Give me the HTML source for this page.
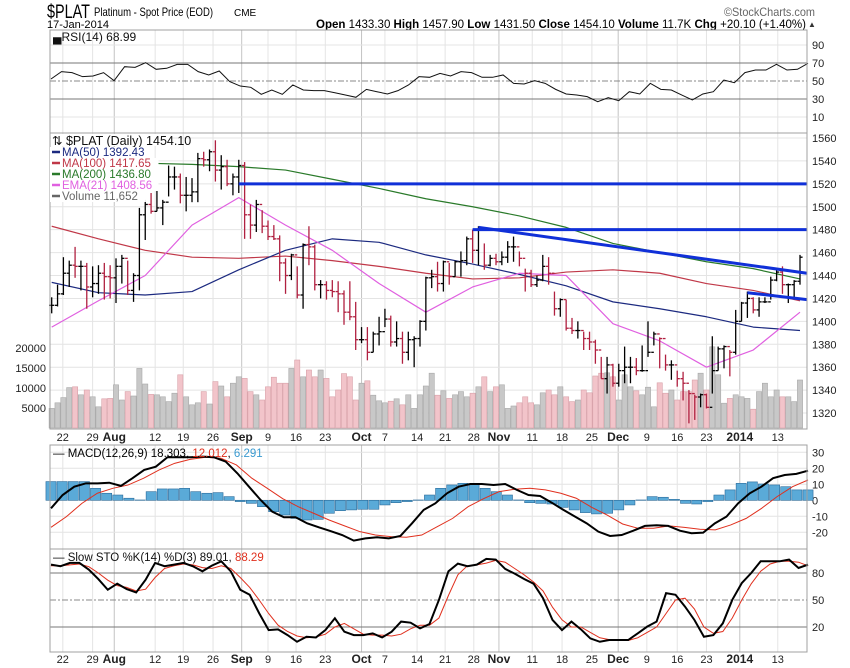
<!DOCTYPE html>
<html><head><meta charset="utf-8"><style>
html,body{margin:0;padding:0;background:#fff}
svg{display:block;font-family:"Liberation Sans",sans-serif}
</style></head><body>
<svg id="chart" width="850" height="668" viewBox="0 0 850 668" xmlns="http://www.w3.org/2000/svg">
<rect x="0" y="0" width="850" height="668" fill="#fff"/>
<text x="47" y="18" font-size="19" textLength="43" lengthAdjust="spacingAndGlyphs" fill="#000">$PLAT</text>
<text x="94" y="16" font-size="12" textLength="119" lengthAdjust="spacingAndGlyphs" fill="#000">Platinum - Spot Price (EOD)</text>
<text x="234" y="16" font-size="10" fill="#000">CME</text>
<text x="724" y="16" font-size="12" textLength="91" lengthAdjust="spacingAndGlyphs" fill="#666">©StockCharts.com</text>
<text x="47" y="28" font-size="11" textLength="62" lengthAdjust="spacingAndGlyphs" fill="#000">17-Jan-2014</text>
<text x="316" y="28" font-size="11.5" textLength="490" lengthAdjust="spacingAndGlyphs" fill="#000"><tspan font-weight="bold">Open</tspan> 1433.30 <tspan font-weight="bold">High</tspan> 1457.90 <tspan font-weight="bold">Low</tspan> 1431.50 <tspan font-weight="bold">Close</tspan> 1454.10 <tspan font-weight="bold">Volume</tspan> 11.7K <tspan font-weight="bold">Chg</tspan> +20.10 (+1.40%)</text>
<text x="808" y="27" font-size="8" fill="#333">▲</text>
<g id="g"></g>
</svg>
<script>
// ---- price data (bar by bar) ----
const highs=[1421,1432,1456,1453,1465,1453,1451,1448,1449,1451,1449,1455,1458,1453,1442,1499,1506,1512,1515,1506,1536,1535,1529,1526,1525,1547,1548,1550,1558,1545,1541,1529,1541,1539,1502,1506,1497,1488,1484,1475,1455,1459,1448,1468,1483,1467,1436,1435,1436,1435,1427,1435,1417,1395,1395,1391,1404,1411,1405,1400,1391,1391,1387,1401,1439,1445,1452,1453,1451,
1453,1461,1474,1480,1483,1468,1458,1459,1461,1470,1474,1461,1446,1445,1440,1458,1456,1426,1420,1419,1403,1400,1391,1391,1384,1369,1369,1363,1363,1378,1369,1368,1379,1400,1391,1386,1371,1366,1357,1356,1340,1336,1337,1337,1387,1378,1379,1375,1410,1417,1426,1421,1421,1421,1439,1445,1448,1433,1436,1458];
const lows=[1407,1413,1423,1430,1438,1427,1411,1421,1424,1419,1420,1416,1433,1423,1417,1427,1471,1494,1496,1484,1509,1515,1503,1496,1504,1504,1535,1531,1522,1515,1518,1510,1512,1472,1472,1478,1477,1471,1471,1435,1424,1436,1420,1411,1449,1427,1420,1419,1421,1408,1397,1401,1375,1381,1366,1373,1379,1395,1378,1378,1363,1366,1360,1378,1392,1429,1426,1426,1432,
1439,1439,1449,1451,1449,1445,1448,1449,1449,1451,1452,1448,1426,1430,1430,1435,1432,1405,1404,1392,1389,1385,1375,1375,1363,1350,1337,1343,1343,1346,1346,1353,1356,1369,1379,1359,1357,1349,1343,1331,1311,1314,1325,1324,1337,1357,1359,1352,1371,1400,1403,1407,1404,1416,1419,1435,1424,1416,1419,1432];
const closes=[1414,1424,1442,1449,1448,1448,1430,1433,1442,1439,1438,1448,1455,1427,1440,1493,1502,1496,1499,1504,1526,1526,1510,1510,1513,1542,1541,1548,1532,1535,1520,1526,1536,1493,1484,1502,1483,1474,1472,1451,1440,1458,1423,1467,1465,1432,1432,1427,1426,1424,1408,1404,1384,1384,1373,1389,1391,1402,1382,1385,1373,1384,1385,1400,1438,1439,1433,1452,1439,
1452,1453,1472,1462,1480,1449,1455,1452,1456,1465,1465,1455,1442,1432,1436,1448,1442,1411,1419,1394,1392,1392,1385,1382,1375,1350,1362,1346,1357,1360,1360,1357,1357,1373,1389,1385,1362,1362,1350,1346,1337,1334,1336,1325,1357,1376,1378,1373,1400,1416,1420,1410,1417,1417,1436,1443,1432,1432,1435,1456];
// volume in thousands
const volumes=[4.9,6.3,7.6,10.1,10.3,8.3,9.5,7.8,5.3,7.3,7.4,10.8,7.0,9.1,8.0,14.9,11.0,8.4,8.3,7.8,6.6,8.7,13.3,7.8,5.8,6.3,9.1,6.0,11.6,10.5,7.8,11.2,12.8,12.4,9.1,8.3,7.0,10.3,12.7,11.2,11.2,14.9,17.0,12.8,14.5,12.8,14.5,12.4,7.8,9.5,13.6,12.8,7.0,11.2,11.8,8.2,6.8,6.3,6.7,7.3,5.8,8.3,4.9,8.3,10.5,13.7,8.2,9.3,7.4,
8.3,9.1,7.8,8.7,10.3,12.8,9.1,10.3,10.8,4.9,5.5,6.3,7.8,6.3,5.8,8.8,9.5,8.3,10.3,7.8,6.6,7.0,9.5,8.8,13.0,13.7,13.8,12.8,7.0,13.3,10.3,9.3,8.3,10.2,5.3,11.3,8.7,9.5,7.0,9.1,9.1,12.0,13.7,9.5,20.3,13.3,6.2,7.4,8.3,7.8,7.4,4.7,9.1,11.2,7.8,9.5,7.8,7.8,6.6,12.0];
// moving averages sampled every 8 bars
const ma50=[1434,1425,1423,1426,1445,1462,1472,1469,1458,1450,1441,1431,1417,1411,1404,1395,1392];
const ma100=[1483,1472,1462,1456,1455,1457,1453,1448,1442,1437,1438,1443,1445,1442,1433,1427,1418];
const ma200=[1540,1539,1538,1537,1535,1532,1524,1516,1507,1500,1492,1482,1468,1460,1452,1446,1437];
const ema21=[1395,1418,1440,1484,1508,1484,1462,1433,1408,1430,1442,1440,1398,1383,1360,1375,1408];
// annotation lines (price levels, bar indices)
const hLevels=[1520,1480];
const hStartBars=[32,72];
const trendFrom=[73,1482]; const trendTo=[128,1442];
const trend2From=[119,1425]; const trend2To=[128,1419];
// RSI
const rsi=[52.2,60.4,59.3,54.8,55.6,59.3,50.4,65.9,65.2,70.4,63,64.1,68.5,68.5,60.4,56.7,61.1,49.3,44.4,43,35.2,40,35.2,45.6,40,39.3,39.3,37,34.4,31.9,40.7,38.1,35.6,39.3,45.6,54.8,54.1,58.5,55.6,60.4,59.3,54.1,54.1,56.7,47.4,46.7,50.4,47.4,40.7,35.6,34.4,32.6,27,31.5,28.1,38.1,35.6,47.4,40.7,40,34.4,28.9,35.6,38.1,51.1,48.1,59.3,62.2,62.2,68.5,62.2,63,69.6];
// MACD
const macdLine=[-5,3.3,8.5,10.6,10.6,11,9,13.8,19,21,26.9,26.9,26.9,27.3,26.9,24.2,16.9,8.5,0.2,-7.1,-10.6,-10.6,-14.4,-16.9,-19.2,-21.7,-25.2,-23.8,-23.1,-23.8,-22.3,-14.4,-6,-1.9,4.4,8.5,10.2,10.2,9.6,10.2,6.5,3.3,2.7,-1.5,-6,-10.2,-14.4,-19.6,-22.3,-21.7,-19,-16,-15.6,-16,-19,-20.6,-20.2,-14.4,-10.2,-1.9,4.4,8.5,13.8,15.8,16.5,18.5];
const macdSignal=[-16.9,-10.2,-1.9,4.4,7.5,9.6,13.8,19,23.1,25.6,26.9,26.3,22.1,13.8,7.5,1,-4,-8.1,-12.3,-16,-19.6,-21.7,-22.7,-23.1,-21.7,-16.5,-11.3,-4,1,5.4,6.9,7.5,6.5,4.4,1.3,-4.4,-9.2,-14.8,-17.5,-17.5,-16,-16.9,-18.1,-18.5,-15.4,-11.3,-5,2.3,8.5,12.7];
const macdHist=[11.7,11.7,11.7,11.7,7.5,4.4,3.3,1.3,0.2,5.4,7.1,7.1,7.5,5.4,4.4,4.8,2.3,-0.8,-1.9,-4,-7.1,-9.2,-11.3,-12.3,-11.9,-8.1,-6.5,-6,-5.6,-5.6,-2.9,-1.5,-0.8,0.2,3.3,7.5,9.6,10.6,10.2,7.5,5.4,3.3,0.2,-1.5,-1.9,-2.3,-4.4,-6,-7.7,-8.5,-8.1,-6,-2.9,0.2,2.3,1.9,0.6,-1.9,-2.3,-0.8,3.3,6.5,10.6,11.5,10.2,9.6,8.5,6.5,6.5];
// Slow stochastic
const stoK=[89.3,87.5,91.2,91.2,83.7,73.3,61.4,68.1,62.1,58.4,72.5,91.2,87.5,89.3,91.2,87.5,81.9,88.2,93,81.9,61.4,55.8,35.3,16.6,17.4,11,3.6,9.2,8.4,16.6,29.7,14.8,11,11,12.9,8.4,14.8,26,24.8,18.5,23.3,50.2,81.9,90.4,87.5,89.3,95.7,94.9,84.5,79.3,73.3,68.1,52,27.8,16.6,26,17.4,7.3,3.6,5.5,5.5,5.5,12.9,20.4,26,57.6,55.8,42.7,27.8,9.2,11,24.1,50.2,68.8,80,93,93,93,94.9,85.6,89.3];
const stoD=[88,88,89,90,87,80,72,66,64,60,62,75,85,88,90,89,86,85,88,85,75,64,50,35,22,15,10,8,9,12,20,24,18,12,11,11,10,12,18,22,22,30,55,78,88,89,91,94,92,85,78,70,60,42,28,20,20,14,8,6,5,5,8,14,20,35,50,52,40,20,13,15,30,50,68,82,90,93,93,92,88];
// date axis
const dateLabels=["22","29","Aug","12","19","26","Sep","9","16","23","Oct","7","14","21","28","Nov","11","18","25","Dec","9","16","23","2014","13"];
const dateBars=[1.9,7,10.7,17.7,22.5,27.6,32.5,37,41.8,46.8,53,57,62.5,67.3,72.2,76.5,82.2,87.3,92.4,96.9,101.8,107,112,117.7,124.2];
const priceTicks=[1560,1540,1520,1500,1480,1460,1440,1420,1400,1380,1360,1340,1320];
const volTicks=[20000,15000,10000,5000];
const rsiTicks=[90,70,50,30,10];
const macdTicks=[30,20,10,0,-10,-20];
const stoTicks=[80,50,20];

const NS="http://www.w3.org/2000/svg";
const G=document.getElementById('g');
function mk(tag,attrs,parent){const e=document.createElementNS(NS,tag);for(const k in attrs)e.setAttribute(k,attrs[k]);(parent||G).appendChild(e);return e;}
const L=50,R=807,N=closes.length;
const xBar=i=>51.7+i*(800-51.7)/(N-1);
const xEven=(i,n)=>51+i*(757/(n-1));
const yP=p=>138+(1560-p)*1.146;
const yV=v=>428-v*4;
const yR=v=>81-(v-50)*0.9;
const yM=v=>500.3-v*1.6;
const yS=v=>600-(v-50)*0.9;
const panels=[[30,133,'rsi-panel'],[133,429,'price-panel'],[445,549,'macd-panel'],[549,652,'stochastic-panel']];
dateLabels.forEach((t,k)=>{
  const isM=isNaN(+t)||t==="2014";
  const x=xBar(dateBars[k]);
  panels.forEach(p=>{
    const ln=mk('line',{x1:x,x2:x,y1:p[0],y2:p[1],stroke:isM?'#c4c4c4':'#e4e4e4','stroke-width':1});
    
    
  });
  [441,663].forEach((yy,j)=>{
    const tx=mk('text',{x:x,y:yy,'font-size':isM?12:11,'font-weight':isM?'bold':'normal','text-anchor':'middle',fill:'#222'});
    tx.textContent=t;
    
    
  });
});
function hgrid(ticks,yf,name,styles){
  ticks.forEach((v,k)=>{
    const st=(styles&&styles[k])||{stroke:'#e4e4e4'};
    const ln=mk('line',Object.assign({x1:L,x2:R,y1:yf(v),y2:yf(v),'stroke-width':1},st));
    
    
    const tx=mk('text',{x:812,y:yf(v)+4,'font-size':11,fill:'#222'});
    tx.textContent=v;
    
    
  });
}
hgrid(rsiTicks,yR,'rsi',[null,{stroke:'#777'},{stroke:'#888','stroke-dasharray':'6,2,2,2'},{stroke:'#777'},null]);
hgrid(priceTicks,yP,'price');
hgrid(macdTicks,yM,'macd');
hgrid(stoTicks,yS,'stochastic',[{stroke:'#777'},{stroke:'#888','stroke-dasharray':'6,2,2,2'},{stroke:'#777'}]);
volTicks.forEach(v=>{
  const tx=mk('text',{x:46,y:yV(v/1000)+4,'font-size':11,'text-anchor':'end',fill:'#222'});
  tx.textContent=v;
  
  
});
volumes.forEach((v,i)=>{
  const up=i===0||closes[i]>=closes[i-1];
  const b=mk('rect',{x:xBar(i)-2.6,y:yV(v),width:5.2,height:428-yV(v),fill:up?'#c8c8c8':'#f2c4ca',stroke:up?'#a8a8a8':'#d8a0a8','stroke-width':0.6});
  
  
});
function maLine(arr,color,name,w){
  const pts=arr.map((v,k)=>xBar(Math.min(k*8,N-1))+','+yP(v)).join(' ');
  const pl=mk('polyline',{points:pts,fill:'none',stroke:color,'stroke-width':w||1.2,'stroke-linejoin':'round'});
  
  
}
maLine(ma200,'#2a7a2a','ma200-line');
maLine(ma100,'#c03848','ma100-line');
maLine(ma50,'#1c2a80','ma50-line');
maLine(ema21,'#e060e0','ema21-line');
closes.forEach((c,i)=>{
  const prev=i?closes[i-1]:c;
  const col=c>=prev?'#000':'#b02040';
  const x=xBar(i);
  const g=mk('g',{stroke:col,'stroke-width':1.3});
  
  
  mk('line',{x1:x,x2:x,y1:yP(highs[i]),y2:yP(lows[i])},g);
  mk('line',{x1:x-2.6,x2:x,y1:yP(prev),y2:yP(prev)},g);
  mk('line',{x1:x,x2:x+2.6,y1:yP(c),y2:yP(c)},g);
});
hLevels.forEach((v,k)=>{
  const ln=mk('line',{x1:xBar(hStartBars[k]),x2:R,y1:yP(v),y2:yP(v),stroke:'#1030d8','stroke-width':3});
  
  
});
[[trendFrom,trendTo,'downtrend-line'],[trend2From,trend2To,'support-trend-line']].forEach(t=>{
  const ln=mk('line',{x1:xBar(t[0][0]),y1:yP(t[0][1]),x2:R,y2:yP(t[1][1]),stroke:'#1030d8','stroke-width':3});
  
  
});
{
  const pts=rsi.map((v,k)=>xEven(k,rsi.length)+','+yR(v)).join(' ');
  const pl=mk('polyline',{points:pts,fill:'none',stroke:'#111','stroke-width':1});
  
  
}
{
  const n=macdHist.length,w=757/(n-1);
  macdHist.forEach((v,k)=>{
    const x=xEven(k,n);
    const b=mk('rect',{x:x-w/2+0.5,y:Math.min(yM(v),yM(0)),width:w-1,height:Math.abs(yM(v)-yM(0)),fill:'#5aaad8',stroke:'#2a6a9a','stroke-width':0.6});
    
    
  });
  const s=mk('polyline',{points:macdSignal.map((v,k)=>xEven(k,macdSignal.length)+','+yM(v)).join(' '),fill:'none',stroke:'#e0301e','stroke-width':1});
  
  
  const m=mk('polyline',{points:macdLine.map((v,k)=>xEven(k,macdLine.length)+','+yM(v)).join(' '),fill:'none',stroke:'#000','stroke-width':2});
  
  
}
{
  const d=mk('polyline',{points:stoD.map((v,k)=>xEven(k,stoD.length)+','+yS(v)).join(' '),fill:'none',stroke:'#e0301e','stroke-width':1});
  
  
  const k2=mk('polyline',{points:stoK.map((v,k)=>xEven(k,stoK.length)+','+yS(v)).join(' '),fill:'none',stroke:'#000','stroke-width':2});
  
  
}
panels.forEach(p=>{
  const r=mk('rect',{x:L,y:p[0],width:R-L,height:p[1]-p[0],fill:'none',stroke:'#a0a0a0','stroke-width':1});
  
  
});
function legend(x,y,txt,color,name,bg){
  if(bg){const r=mk('rect',{x:x-2,y:y-9,width:txt.length*6.3+14,height:11,fill:'#fff'});
    
    }
  const m=mk('line',{x1:x,x2:x+8,y1:y-4,y2:y-4,stroke:color,'stroke-width':2.5});
  
  
  const t=mk('text',{x:x+10,y:y,'font-size':11.5,fill:color});
  t.textContent=txt;
  
  
  return t;
}
{
  const t=mk('text',{x:53,y:41,'font-size':12,fill:'#111'});
  t.textContent='\u2584RSI(14) 68.99';
  
  
  const r=mk('rect',{x:51,y:134,width:120,height:12,fill:'#fff'});
  
  
  const p=mk('text',{x:52,y:145,'font-size':12.5,fill:'#111'});
  p.textContent='\u21C5 $PLAT (Daily) 1454.10';
  
  
}
legend(52,156,'MA(50) 1392.43','#1c2a80','ma50-legend',true);
legend(52,167,'MA(100) 1417.65','#c03848','ma100-legend',true);
legend(52,178,'MA(200) 1436.80','#2a7a2a','ma200-legend',true);
legend(52,189,'EMA(21) 1408.56','#e060e0','ema21-legend',true);
legend(52,200,'Volume 11,652','#666','volume-legend',true);
{
  const t=mk('text',{x:53,y:457,'font-size':11.5,fill:'#111'});
  t.innerHTML='<tspan fill="#000">\u2014 MACD(12,26,9) 18.303, </tspan><tspan fill="#e0301e">12.012</tspan><tspan fill="#000">, </tspan><tspan fill="#3a9ad0">6.291</tspan>';
  
  
  const s=mk('text',{x:53,y:561,'font-size':11.5,fill:'#111'});
  s.innerHTML='<tspan>\u2014 Slow STO %K(14) %D(3) 89.01, </tspan><tspan fill="#e0301e">88.29</tspan>';
  
  
}
</script>
</body></html>
